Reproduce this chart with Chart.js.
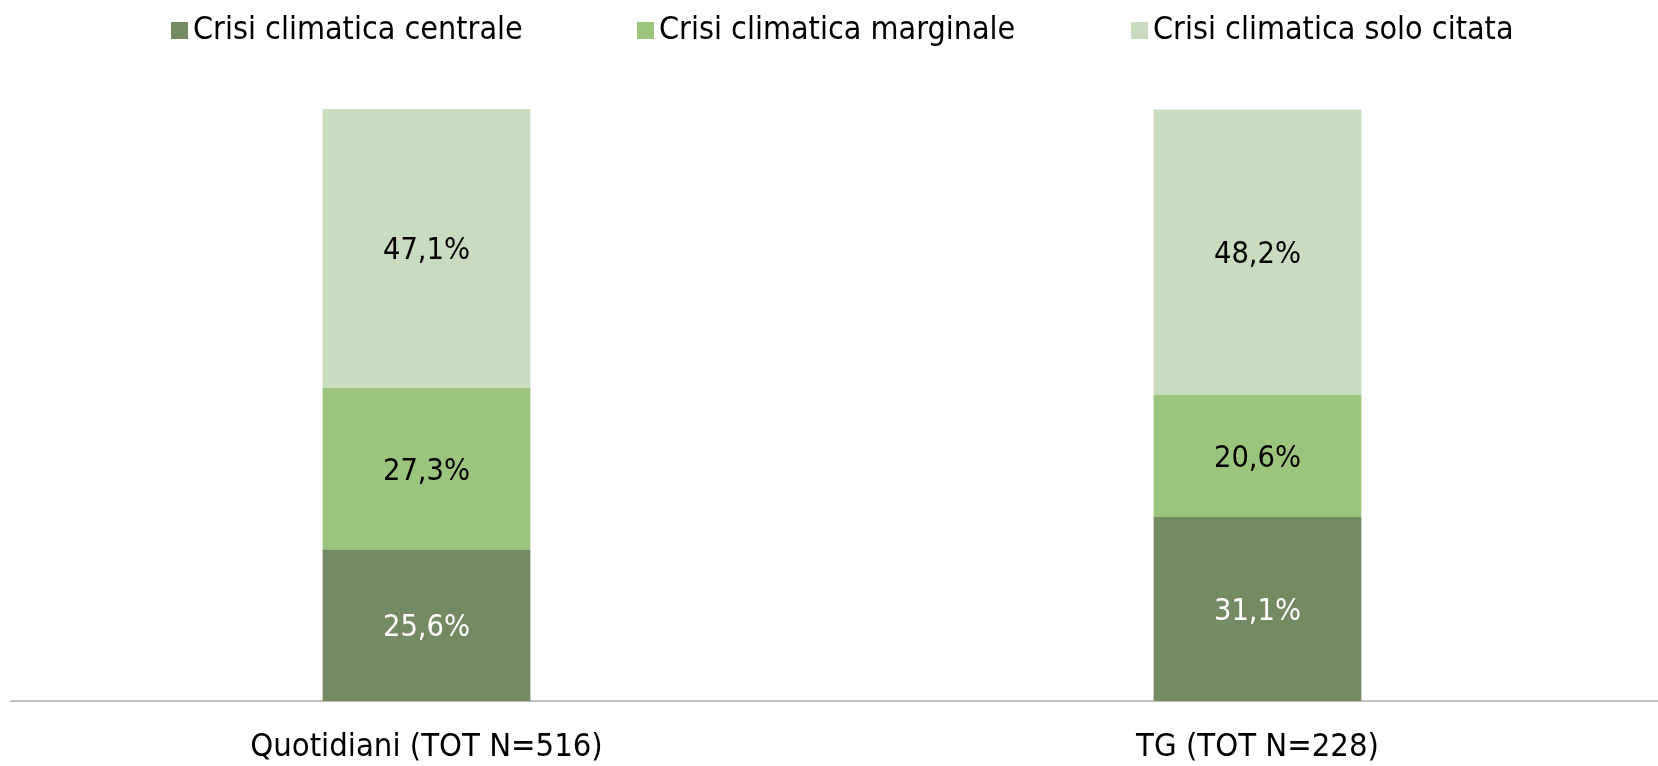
<!DOCTYPE html>
<html>
<head>
<meta charset="utf-8">
<script src="https://cdn.jsdelivr.net/npm/chart.js@4.4.0/dist/chart.umd.min.js"></script>
<style>
  html, body { margin: 0; padding: 0; background: #fff; overflow: hidden; }
  #wrap { position: relative; width: 1658px; height: 766px; overflow: hidden; }
  #legend { position: absolute; top: 8px; left: 0; width: 1658px; height: 40px; z-index: 2;
    font-family: "Liberation Sans Narrow", "DejaVu Sans Condensed", sans-serif; font-size: 32px; color: #000; }
  .item { position: absolute; top: 0; line-height: 40px; white-space: nowrap; }
  .box { display: inline-block; width: 17px; height: 17px; margin-right: 5px; vertical-align: 0px; }
  canvas { position: absolute; left: 0; top: 0; }
</style>
</head>
<body>
<div id="wrap">
  <div id="legend"></div>
  <canvas id="chart" width="1673" height="766"></canvas>
</div>
<script>
  // data
  var categories = ['Quotidiani (TOT N=516)', 'TG (TOT N=228)'];
  var seriesNames = ['Crisi climatica centrale', 'Crisi climatica marginale', 'Crisi climatica solo citata'];
  var centrale = [25.6, 31.1];
  var marginale = [27.3, 20.6];
  var citata = [47.1, 48.2];

  var colors = ['#738a62', '#9bc57c', '#cadcc0'];
  var labelColors = ['#ffffff', '#000000', '#000000'];
  var legendX = [171, 637, 1131];
  var fontFam = '"Liberation Sans Narrow", "DejaVu Sans Condensed", sans-serif';

  // legend as html
  var leg = document.getElementById('legend');
  for (var i = 0; i < seriesNames.length; i++) {
    var d = document.createElement('div');
    d.className = 'item';
    d.style.left = legendX[i] + 'px';
    d.innerHTML = '<span class="box" style="background:' + colors[i] + '"></span>' + seriesNames[i];
    leg.appendChild(d);
  }

  // simple data labels
  var labelPlugin = {
    id: 'barLabels',
    afterDatasetsDraw: function (chart) {
      var ctx = chart.ctx;
      ctx.save();
      ctx.font = '30.5px ' + fontFam;
      ctx.textAlign = 'center';
      ctx.textBaseline = 'middle';
      chart.data.datasets.forEach(function (ds, di) {
        var meta = chart.getDatasetMeta(di);
        meta.data.forEach(function (bar, j) {
          var txt = ds.data[j].toFixed(1).replace('.', ',') + '%';
          ctx.fillStyle = labelColors[di];
          ctx.fillText(txt, bar.x, (bar.y + bar.base) / 2 + 3);
        });
      });
      ctx.restore();
    }
  };

  var ctx = document.getElementById('chart');
  new Chart(ctx, {
    type: 'bar',
    data: {
      labels: categories,
      datasets: [
        { label: seriesNames[0], data: centrale, backgroundColor: colors[0] },
        { label: seriesNames[1], data: marginale, backgroundColor: colors[1] },
        { label: seriesNames[2], data: citata, backgroundColor: colors[2] }
      ]
    },
    options: {
      responsive: false,
      animation: false,
      layout: { padding: { top: 109, left: 11, right: 0, bottom: -20 } },
      datasets: { bar: { categoryPercentage: 1, barPercentage: 0.25 } },
      plugins: { legend: { display: false }, tooltip: { enabled: false } },
      scales: {
        x: {
          stacked: true,
          grid: { display: false },
          border: { display: true, color: '#bfbfbf', width: 2 },
          ticks: { color: '#000', padding: 19, font: { family: fontFam, size: 32.5 } }
        },
        y: {
          stacked: true,
          display: false,
          min: 0,
          max: 100
        }
      }
    },
    plugins: [labelPlugin]
  });
</script>
</body>
</html>
